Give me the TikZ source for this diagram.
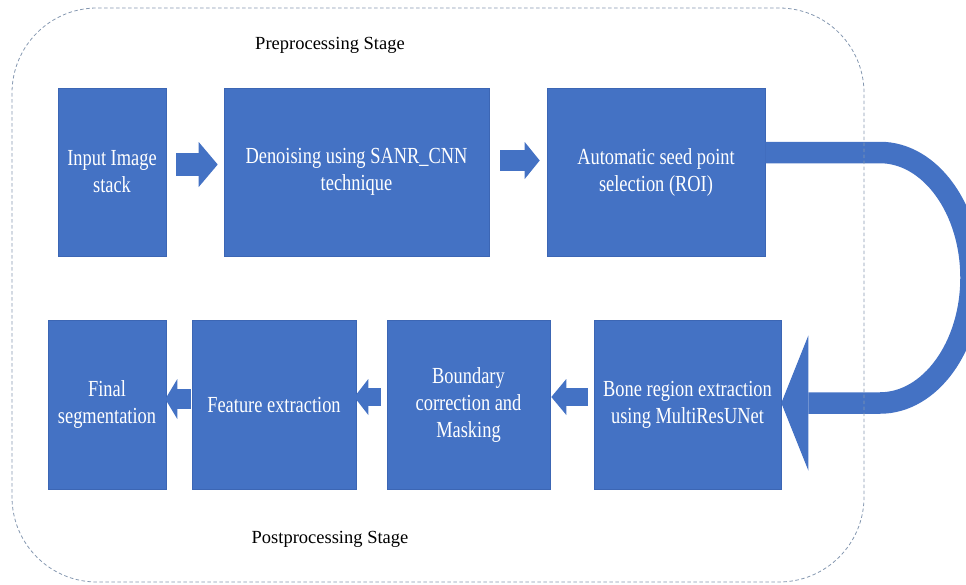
\documentclass[tikz,border=0pt]{standalone}
\usepackage{fontspec}
\setmainfont{Liberation Serif}
\newfontfamily\boxfont[FakeStretch=0.8]{Liberation Serif}
\usetikzlibrary{positioning,calc,arrows.meta}

\definecolor{boxblue}{HTML}{4472C4}
\definecolor{boxedge}{HTML}{3C66B4}
\definecolor{stageline}{HTML}{8497B0}

\tikzset{
  stagebox/.style={draw=boxedge, line width=0.6pt, fill=boxblue, text=white, align=center,
    font=\boxfont\fontsize{23}{27}\selectfont, inner sep=2pt},
  toprow/.style={stagebox, minimum height=168pt},
  botrow/.style={stagebox, minimum height=169pt},
  blk/.style={draw=boxblue, line width=#1},
  stagelabel/.style={font=\fontsize{18.5}{22}\selectfont, text=black},
  stageframe/.style={draw=stageline, line width=0.8pt, dash pattern=on 3.5pt off 2.5pt, rounded corners=85pt}
}

\begin{document}
\begin{tikzpicture}[x=1pt,y=-1pt]
		\useasboundingbox (0,0) rectangle (966,584);
		\clip (0,0) rectangle (966,584);

		\node[toprow, minimum width=108pt] (inp) at (112,172) {Input Image\\stack};
		\node[toprow, minimum width=265pt] (den) at (356.5,172) {Denoising using SANR\_CNN\\technique};
		\node[toprow, minimum width=218pt] (seed) at (656,172) {Automatic seed point\\selection (ROI)};

		\node[botrow, minimum width=118pt] (fin) at (107,404.5) {Final\\segmentation};
		\node[botrow, minimum width=164pt] (feat) at (274,404.5) {Feature extraction};
		\node[botrow, minimum width=163pt] (bnd) at (468.5,404.5) {Boundary\\correction and\\Masking};
		\node[botrow, minimum width=187pt] (bone) at (687.5,404.5) {Bone region extraction\\using MultiResUNet};

		\node[stagelabel] (pre) at (330,45) {Preprocessing Stage};
		\node[stagelabel] (post) at (330,539) {Postprocessing Stage};

		\draw[blk=23pt, -{Triangle[length=19pt,width=45pt,line width=0pt]}, shorten <=10pt, shorten >=6pt]
			([yshift=7.5pt]inp.east) -- ([yshift=7.5pt]den.west);
		\draw[blk=21pt, -{Triangle[length=15pt,width=37pt,line width=0pt]}, shorten <=11pt, shorten >=7pt]
			([yshift=11.5pt]den.east) -- ([yshift=11.5pt]seed.west);
		\draw[blk=18pt, -{Triangle[length=15pt,width=36pt,line width=0pt]}, shorten <=6pt, shorten >=1pt]
			([yshift=7.5pt]bone.west) -- ([yshift=7.5pt]bnd.east);
		\draw[blk=18pt, -{Triangle[length=14pt,width=36pt,line width=0pt]}, shorten <=6pt, shorten >=-2pt]
			([yshift=7.5pt]bnd.west) -- ([yshift=7.5pt]feat.east);
		\draw[blk=20pt, -{Triangle[length=12pt,width=40pt,line width=0pt]}, shorten <=1pt, shorten >=-1pt]
			([yshift=5.5pt]feat.west) -- ([yshift=5.5pt]fin.east);

		\draw[blk=21.5pt, -{Triangle[length=27pt,width=135pt,line width=0pt]}]
			([yshift=19.5pt]seed.east) -- (880,152.5)
			.. controls (930,152.5) and (971,208.6) .. (971,277.75)
			.. controls (971,346.9) and (930,403) .. (880,403)
			-- ([yshift=1.5pt]bone.east);

		\draw[stageframe] (12,8) rectangle (864,582);
	\end{tikzpicture}
\end{document}
